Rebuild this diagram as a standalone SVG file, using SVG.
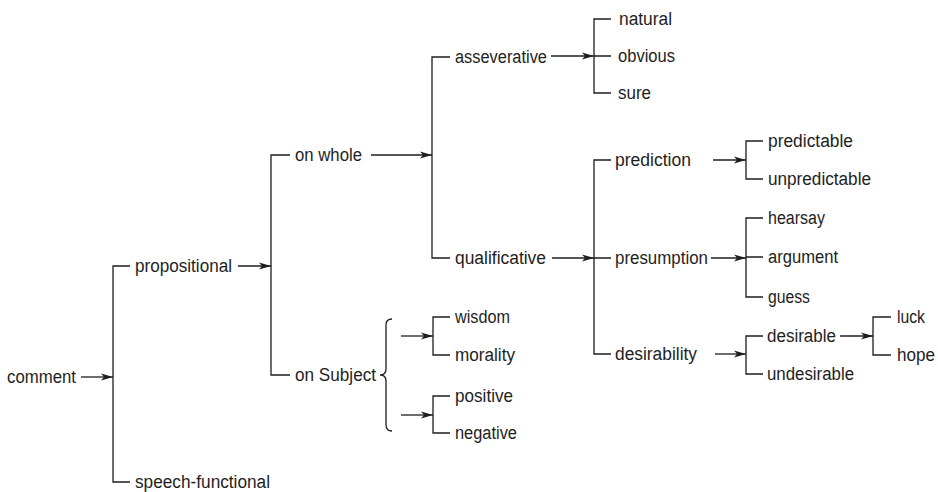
<svg xmlns="http://www.w3.org/2000/svg" width="938" height="492" viewBox="0 0 938 492">
<style>
text{font-family:"Liberation Sans",Arial,sans-serif;font-size:18px;fill:#1e1e1e}
.c{fill:none;stroke:#1e1e1e;stroke-width:1.3}
.a{fill:none;stroke:#1e1e1e;stroke-width:1.3;marker-end:url(#ah)}
</style>
<defs>
<marker id="ah" markerUnits="userSpaceOnUse" markerWidth="13" markerHeight="8" refX="12" refY="4" orient="auto">
<path d="M0,0.6 L12,4 L0,7.4 L3,4 Z" fill="#1e1e1e"/>
</marker>
</defs>
<g id="connectors">
<path class="a" d="M81,377 H113"/>
<path class="c" d="M130,266 H113 V482 H130"/>
<path class="a" d="M238,266 H271"/>
<path class="c" d="M290,155 H271 V375 H290"/>
<path class="a" d="M371,155 H432"/>
<path class="c" d="M450,57 H432 V258 H450"/>
<path class="a" d="M551,56 H594"/>
<path class="c" d="M611,19 H594 V93 H611 M594,56 H611"/>
<path class="a" d="M552,258 H594"/>
<path class="c" d="M611,160 H594 V354 H611 M594,258 H611"/>
<path class="a" d="M713,160 H746"/>
<path class="c" d="M763,141 H746 V179 H763"/>
<path class="a" d="M711,258 H746"/>
<path class="c" d="M763,218 H746 V297 H763 M746,257 H763"/>
<path class="a" d="M715,354 H746"/>
<path class="c" d="M763,336 H746 V374 H763"/>
<path class="a" d="M840,336 H873"/>
<path class="c" d="M891,317 H873 V355 H891"/>
<path class="c" d="M392,319 Q386,319 386,325 V369 Q386,375 380,375 Q386,375 386,381 V425 Q386,431 392,431"/>
<path class="a" d="M401,336 H433"/>
<path class="c" d="M450,317 H433 V355 H450"/>
<path class="a" d="M401,415 H433"/>
<path class="c" d="M450,396 H433 V433 H450"/>
</g>
<g id="comment"><text x="7" y="383" textLength="69" lengthAdjust="spacingAndGlyphs">comment</text></g>
<g id="propositional"><text x="135" y="272" textLength="97" lengthAdjust="spacingAndGlyphs">propositional</text></g>
<g id="speech-functional"><text x="135" y="488" textLength="135" lengthAdjust="spacingAndGlyphs">speech-functional</text></g>
<g id="on-whole"><text x="295" y="161" textLength="67" lengthAdjust="spacingAndGlyphs">on whole</text></g>
<g id="on-subject"><text x="295" y="381" textLength="81" lengthAdjust="spacingAndGlyphs">on Subject</text></g>
<g id="asseverative"><text x="455" y="63" textLength="92" lengthAdjust="spacingAndGlyphs">asseverative</text></g>
<g id="qualificative"><text x="455" y="264" textLength="91" lengthAdjust="spacingAndGlyphs">qualificative</text></g>
<g id="natural"><text x="619" y="25" textLength="53" lengthAdjust="spacingAndGlyphs">natural</text></g>
<g id="obvious"><text x="618" y="62" textLength="57" lengthAdjust="spacingAndGlyphs">obvious</text></g>
<g id="sure"><text x="618" y="99" textLength="33" lengthAdjust="spacingAndGlyphs">sure</text></g>
<g id="prediction"><text x="615" y="166" textLength="76" lengthAdjust="spacingAndGlyphs">prediction</text></g>
<g id="presumption"><text x="615" y="264" textLength="93" lengthAdjust="spacingAndGlyphs">presumption</text></g>
<g id="desirability"><text x="615" y="360" textLength="82" lengthAdjust="spacingAndGlyphs">desirability</text></g>
<g id="predictable"><text x="768" y="147" textLength="85" lengthAdjust="spacingAndGlyphs">predictable</text></g>
<g id="unpredictable"><text x="768" y="185" textLength="103" lengthAdjust="spacingAndGlyphs">unpredictable</text></g>
<g id="hearsay"><text x="768" y="224" textLength="57" lengthAdjust="spacingAndGlyphs">hearsay</text></g>
<g id="argument"><text x="768" y="263" textLength="70" lengthAdjust="spacingAndGlyphs">argument</text></g>
<g id="guess"><text x="768" y="303" textLength="42" lengthAdjust="spacingAndGlyphs">guess</text></g>
<g id="desirable"><text x="767" y="342" textLength="69" lengthAdjust="spacingAndGlyphs">desirable</text></g>
<g id="undesirable"><text x="767" y="380" textLength="87" lengthAdjust="spacingAndGlyphs">undesirable</text></g>
<g id="luck"><text x="897" y="323" textLength="28" lengthAdjust="spacingAndGlyphs">luck</text></g>
<g id="hope"><text x="897" y="361" textLength="38" lengthAdjust="spacingAndGlyphs">hope</text></g>
<g id="wisdom"><text x="455" y="323" textLength="55" lengthAdjust="spacingAndGlyphs">wisdom</text></g>
<g id="morality"><text x="455" y="361" textLength="60" lengthAdjust="spacingAndGlyphs">morality</text></g>
<g id="positive"><text x="455" y="402" textLength="58" lengthAdjust="spacingAndGlyphs">positive</text></g>
<g id="negative"><text x="455" y="439" textLength="62" lengthAdjust="spacingAndGlyphs">negative</text></g>
</svg>
